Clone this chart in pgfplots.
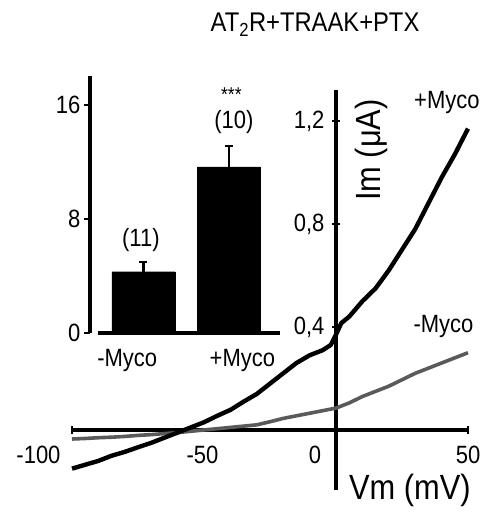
\documentclass[border=0pt]{standalone}
\usepackage{pgfplots}
\pgfplotsset{compat=1.18}
\usepackage{fontspec}
\setmainfont{Liberation Sans}[FakeStretch=0.88]
\definecolor{trace}{HTML}{5A5A5A}
\newcommand{\fs}[1]{\fontsize{#1}{#1}\selectfont}
\begin{document}
\begin{tikzpicture}
\useasboundingbox (0,0) rectangle (482pt,514pt);
\begin{axis}[
 at={(72pt,24pt)}, anchor=south west,
 scale only axis, width=396pt, height=400pt,
 xmin=-100, xmax=50, ymin=-0.233, ymax=1.32,
 axis lines=middle,
 axis line style={-, line width=3.4pt},
 every inner x axis line/.append style={-, line width=3.4pt},
 every inner y axis line/.append style={-, line width=3.4pt},
 xtick={-100,50}, xticklabels={},
 ytick={0.4,0.8,1.2}, yticklabels={{0,4},{0,8},{1,2}},
 tick style={line width=2.2pt, black},
 major tick length=8pt, tick align=center,
 yticklabel style={anchor=east, xshift=-4pt, font=\fs{25}},
 clip=false,
]
\addplot[trace, line width=3.6pt, line join=round] coordinates {
(-100,-0.035) (-95,-0.033) (-90,-0.030) (-85,-0.028) (-80,-0.025) (-75,-0.021)
(-70,-0.018) (-65,-0.014) (-60,-0.010) (-55,-0.005) (-50,0.000) (-45,0.005)
(-40,0.010) (-35,0.015) (-30,0.020) (-25,0.032) (-20,0.045) (-15,0.055)
(-10,0.065) (-5,0.075) (0,0.085) (5,0.105) (10,0.130) (15,0.150) (20,0.170)
(25,0.195) (30,0.220) (35,0.240) (40,0.260) (45,0.280) (50,0.300)};
\addplot[black, line width=4.4pt, line join=round] coordinates {
(-100,-0.150) (-95,-0.135) (-90,-0.120) (-85,-0.100) (-80,-0.085) (-75,-0.067)
(-70,-0.050) (-65,-0.030) (-60,-0.010) (-55,0.010) (-50,0.030) (-45,0.055)
(-40,0.078) (-35,0.110) (-30,0.140) (-25,0.180) (-20,0.220) (-15,0.260)
(-10,0.290) (-5,0.310) (-2,0.330) (0,0.370) (2,0.415) (5,0.440) (10,0.500)
(15,0.550) (20,0.620) (25,0.700) (30,0.780) (35,0.880) (40,0.980) (45,1.070)
(50,1.170)};
\node[font=\fs{25}] at (axis cs:-112.7,-0.097) {-100};
\node[font=\fs{25}] at (axis cs:-50.6,-0.097) {-50};
\node[font=\fs{25}] at (axis cs:-8,-0.097) {0};
\node[font=\fs{25}] at (axis cs:50,-0.097) {50};
\node[font=\fs{35}] at (axis cs:28,-0.233) {Vm (mV)};
\node[font=\fs{35}, rotate=90] at (axis cs:13.3,1.087) {Im (μA)};
\node[font=\fs{27}] at (axis cs:-7.95,1.573) {AT\textsubscript{2}R+TRAAK+PTX};
\node[font=\fs{25}] at (axis cs:42,1.27) {+Myco};
\node[font=\fs{25}] at (axis cs:40.7,0.40) {-Myco};
\end{axis}
\begin{axis}[
 at={(90pt,181pt)}, anchor=south west,
 scale only axis, width=190pt, height=256.5pt,
 xmin=-0.626, xmax=1.60, ymin=0, ymax=18,
 axis x line=none, axis y line=left,
 axis line style={-, line width=3.4pt},
 every outer y axis line/.append style={-, line width=3.4pt},
 ytick={0,8,16},
 tick style={line width=2.2pt, black},
 major tick length=6pt, tick align=outside,
 yticklabel style={anchor=east, font=\fs{25}},
 /pgf/number format/assume math mode=true,
 clip=false,
]
\addplot[ybar, bar width=63pt, fill=black, draw=black,
 error bars/.cd, y dir=plus, y explicit,
 error bar style={line width=2.2pt, black},
 error mark options={rotate=90, mark size=4pt, line width=2.2pt, black}]
 coordinates {(0,4.3) +- (0,0.7) (1,11.65) +- (0,1.45)};
\draw[line width=3.4pt] (axis cs:-0.53,0) -- (axis cs:1.6,0);
\node[font=\fs{25}] at (axis cs:-0.19,-1.9) {-Myco};
\node[font=\fs{25}] at (axis cs:1.16,-1.9) {+Myco};
\node[font=\fs{25}] at (axis cs:-0.03,6.5) {(11)};
\node[font=\fs{25}] at (axis cs:1.06,14.8) {(10)};
\node[font=\fs{20}] at (axis cs:1.03,16.75) {***};
\end{axis}
\end{tikzpicture}
\end{document}
